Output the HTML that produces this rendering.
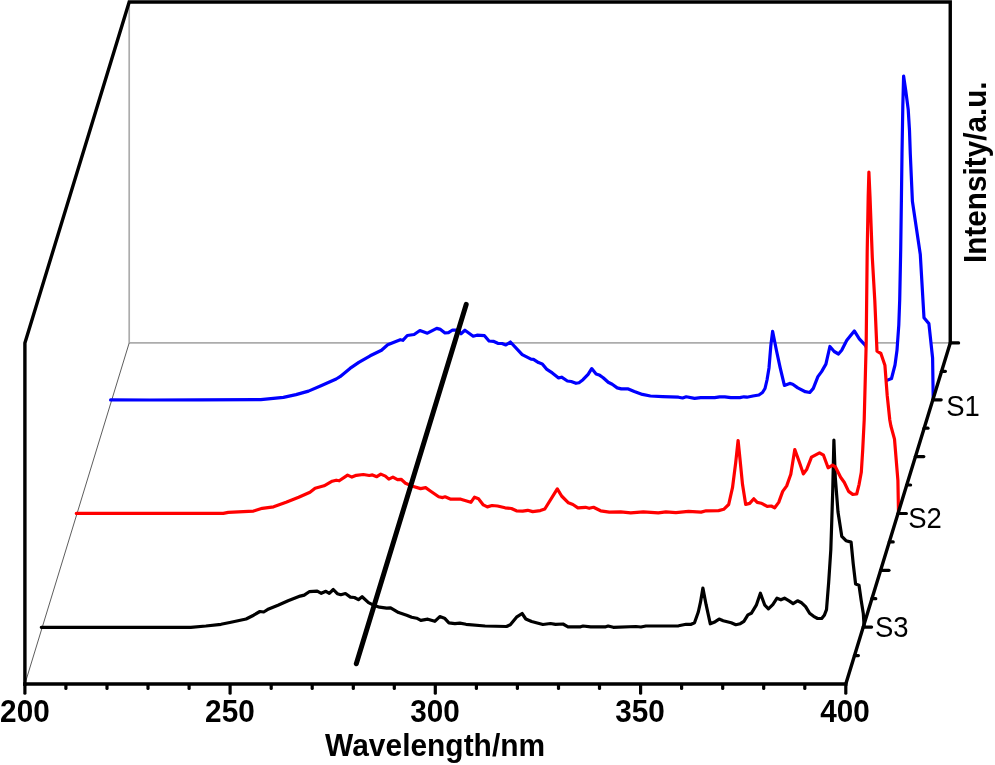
<!DOCTYPE html>
<html><head><meta charset="utf-8"><title>Spectra</title>
<style>html,body{margin:0;padding:0;background:#fff}body{width:995px;height:765px;overflow:hidden}</style></head>
<body>
<svg width="995" height="765" viewBox="0 0 995 765" style="display:block">
<rect width="995" height="765" fill="#fff"/>
<g stroke="#acacac" stroke-width="1.7" fill="none"><line x1="129.2" y1="2" x2="129.2" y2="342.9"/><line x1="129.2" y1="342.9" x2="950.25" y2="342.9"/></g>
<line x1="129.2" y1="342.9" x2="24.9" y2="684" stroke="#333" stroke-width="0.8"/>
<polygon points="110.6,399.9 150.0,400.0 200.0,399.8 260.8,399.6 283.4,397.4 296.0,394.6 308.5,391.1 321.0,385.8 336.2,379.0 340.0,376.7 350.0,368.4 358.8,362.4 370.2,355.8 381.5,350.3 387.7,344.8 400.3,339.7 402.8,340.3 407.3,335.5 414.1,334.5 419.9,330.5 427.4,333.2 436.7,328.4 440.5,329.4 445.0,333.0 448.5,332.7 452.6,330.0 458.0,330.2 461.0,333.7 464.9,330.2 473.2,336.2 476.9,335.2 484.5,335.7 489.0,341.0 493.3,341.3 497.8,343.3 502.0,343.5 505.8,345.0 510.4,342.0 522.2,354.6 531.0,359.1 533.5,359.3 538.5,362.6 542.3,363.9 546.5,369.1 552.3,372.9 558.6,377.9 561.6,377.2 567.4,381.0 571.2,381.5 576.0,383.3 579.0,382.7 583.0,379.7 588.1,374.3 591.7,368.6 596.1,373.9 599.1,374.9 603.2,377.7 608.2,382.3 612.2,384.3 617.2,387.9 621.3,388.9 628.3,388.9 634.3,391.4 642.4,394.4 650.4,396.0 662.5,396.6 678.5,397.2 682.6,398.0 686.2,396.8 694.6,398.4 700.7,397.6 714.7,397.6 719.7,396.8 724.8,396.8 730.8,397.6 739.8,397.6 743.9,396.8 746.9,397.2 752.9,396.0 758.9,395.0 762.5,392.5 765.0,388.5 767.0,380.0 769.0,368.0 770.8,346.0 772.6,331.4 776.4,350.3 780.2,367.8 784.4,385.4 789.7,383.4 792.7,384.2 797.8,387.9 805.3,391.7 809.8,392.5 813.3,388.4 817.9,376.6 821.6,371.6 825.9,364.1 829.9,346.5 834.2,351.5 838.5,354.0 841.7,350.3 846.8,340.2 854.3,330.9 859.3,338.9 865.6,345.7 875.0,365.0 882.0,378.0 887.0,380.4 891.5,378.5 895.0,365.0 897.0,350.3 898.8,325.0 899.7,300.0 900.7,250.0 901.4,200.0 902.0,154.0 902.8,107.0 903.6,76.0 905.8,91.0 908.2,109.4 909.5,130.6 910.3,154.0 912.4,201.2 920.3,254.6 924.0,317.8 928.9,323.6 932.6,358.0 933.2,398.3 933.2,400.0 110.6,400.0" fill="#fff" stroke="none"/>
<polyline points="110.6,399.9 150.0,400.0 200.0,399.8 260.8,399.6 283.4,397.4 296.0,394.6 308.5,391.1 321.0,385.8 336.2,379.0 340.0,376.7 350.0,368.4 358.8,362.4 370.2,355.8 381.5,350.3 387.7,344.8 400.3,339.7 402.8,340.3 407.3,335.5 414.1,334.5 419.9,330.5 427.4,333.2 436.7,328.4 440.5,329.4 445.0,333.0 448.5,332.7 452.6,330.0 458.0,330.2 461.0,333.7 464.9,330.2 473.2,336.2 476.9,335.2 484.5,335.7 489.0,341.0 493.3,341.3 497.8,343.3 502.0,343.5 505.8,345.0 510.4,342.0 522.2,354.6 531.0,359.1 533.5,359.3 538.5,362.6 542.3,363.9 546.5,369.1 552.3,372.9 558.6,377.9 561.6,377.2 567.4,381.0 571.2,381.5 576.0,383.3 579.0,382.7 583.0,379.7 588.1,374.3 591.7,368.6 596.1,373.9 599.1,374.9 603.2,377.7 608.2,382.3 612.2,384.3 617.2,387.9 621.3,388.9 628.3,388.9 634.3,391.4 642.4,394.4 650.4,396.0 662.5,396.6 678.5,397.2 682.6,398.0 686.2,396.8 694.6,398.4 700.7,397.6 714.7,397.6 719.7,396.8 724.8,396.8 730.8,397.6 739.8,397.6 743.9,396.8 746.9,397.2 752.9,396.0 758.9,395.0 762.5,392.5 765.0,388.5 767.0,380.0 769.0,368.0 770.8,346.0 772.6,331.4 776.4,350.3 780.2,367.8 784.4,385.4 789.7,383.4 792.7,384.2 797.8,387.9 805.3,391.7 809.8,392.5 813.3,388.4 817.9,376.6 821.6,371.6 825.9,364.1 829.9,346.5 834.2,351.5 838.5,354.0 841.7,350.3 846.8,340.2 854.3,330.9 859.3,338.9 865.6,345.7 875.0,365.0 882.0,378.0 887.0,380.4 891.5,378.5 895.0,365.0 897.0,350.3 898.8,325.0 899.7,300.0 900.7,250.0 901.4,200.0 902.0,154.0 902.8,107.0 903.6,76.0 905.8,91.0 908.2,109.4 909.5,130.6 910.3,154.0 912.4,201.2 920.3,254.6 924.0,317.8 928.9,323.6 932.6,358.0 933.2,398.3" fill="none" stroke="#0000ff" stroke-width="3.2" stroke-linejoin="round" stroke-linecap="round"/>
<polygon points="76.3,513.4 223.3,513.4 228.3,512.4 253.5,511.1 262.3,508.3 273.6,506.8 286.1,502.3 298.7,497.3 310.0,492.2 315.1,488.2 324.1,485.8 332.2,481.2 336.2,480.2 339.2,480.8 347.6,475.1 351.9,477.1 356.3,475.3 363.3,474.5 369.3,475.5 372.4,474.9 376.8,476.7 380.8,474.1 385.4,476.1 388.8,479.1 392.9,477.1 397.5,479.7 401.1,479.3 405.5,483.2 412.6,486.2 420.6,488.6 425.6,487.6 430.7,491.2 438.7,496.8 442.7,497.6 445.1,496.8 450.8,499.2 460.8,499.2 470.9,502.3 474.5,497.2 478.5,498.8 483.3,504.9 487.3,506.9 492.0,505.5 497.5,506.0 505.1,507.8 511.4,508.5 516.4,510.8 522.7,511.1 527.7,510.3 532.7,511.6 540.3,510.6 544.8,509.0 557.3,488.9 561.6,496.0 568.4,502.8 572.9,504.5 577.9,507.8 585.5,507.3 589.2,508.3 593.5,507.3 600.6,510.8 609.3,512.1 620.7,511.8 630.7,512.8 643.3,511.8 658.3,512.8 665.9,511.8 675.9,512.6 688.5,511.3 701.1,512.1 706.1,510.8 718.6,510.6 723.7,509.3 728.7,504.5 732.5,487.7 735.7,462.6 738.1,440.5 740.1,460.2 742.5,484.3 745.7,504.4 749.7,503.4 753.8,498.8 757.2,502.4 761.2,503.2 767.2,506.4 771.3,506.0 774.7,507.8 778.7,502.4 782.7,491.4 786.7,485.9 790.8,474.3 794.8,449.5 799.4,462.2 803.4,473.9 806.8,469.2 811.5,457.2 819.5,452.8 823.5,455.2 828.1,467.8 832.6,465.2 835.6,467.2 840.6,477.3 844.2,482.3 848.6,491.4 852.7,494.4 856.7,494.0 859.1,484.3 861.3,472.3 862.7,450.2 864.2,420.0 866.2,343.0 867.2,251.6 868.2,196.6 868.9,172.0 870.0,196.6 872.3,257.5 874.8,300.6 877.0,351.2 880.9,353.5 884.9,365.2 887.2,395.4 889.8,420.0 890.9,426.0 894.5,439.1 897.9,480.3 898.5,512.5 898.5,513.4 76.3,513.4" fill="#fff" stroke="none"/>
<polygon points="41.3,627.3 190.8,627.3 205.9,626.0 221.0,624.3 231.0,622.3 246.1,619.0 253.6,615.2 259.9,611.5 263.7,612.0 268.7,608.9 278.0,605.2 288.1,600.8 300.2,596.1 304.2,595.1 309.2,591.7 317.2,591.1 321.3,593.3 325.9,591.3 329.3,593.3 333.3,589.5 337.3,593.7 340.8,594.7 345.4,593.5 350.4,597.1 354.4,597.5 358.4,599.7 362.1,596.7 368.5,602.6 374.5,605.6 379.5,607.2 386.6,608.2 390.6,607.8 398.6,612.6 406.7,615.2 411.7,617.2 416.7,618.2 420.8,620.3 427.8,619.2 434.8,621.3 439.8,616.6 444.5,618.2 448.9,622.9 454.9,623.7 459.9,623.1 466.0,624.3 485.1,626.0 506.5,626.5 510.3,624.8 516.5,617.2 522.1,613.5 525.8,619.0 531.6,621.5 542.9,624.5 550.5,623.5 555.5,624.3 563.0,624.0 568.0,626.8 580.6,626.8 583.1,626.0 590.7,626.8 605.7,626.8 608.2,626.0 613.3,627.3 635.9,626.5 640.9,627.0 645.9,626.0 668.5,626.0 678.6,625.8 686.1,624.3 691.2,624.3 694.5,622.8 698.3,612.0 700.5,602.2 702.9,588.1 706.1,604.7 710.3,623.8 714.1,622.3 719.1,619.1 723.2,620.7 731.2,622.7 735.8,624.7 740.3,623.7 743.9,621.3 747.9,614.9 751.3,613.3 756.3,605.2 760.4,593.2 764.8,605.2 768.4,608.8 772.8,604.6 777.0,598.2 780.9,599.8 784.5,598.2 789.5,601.2 793.1,603.6 797.5,600.8 801.6,602.8 805.6,606.6 809.6,613.3 813.6,616.3 817.6,618.5 821.7,618.5 824.3,615.3 826.5,609.7 828.7,582.0 830.8,550.0 831.8,520.0 832.7,491.8 833.9,440.1 835.3,477.5 838.0,512.0 841.8,536.4 846.0,540.7 851.1,542.1 853.2,563.7 855.6,584.0 859.0,585.2 861.2,600.5 863.3,613.5 864.1,626.0 864.1,627.3 41.3,627.3" fill="#fff" stroke="none"/>
<polyline points="41.3,627.3 190.8,627.3 205.9,626.0 221.0,624.3 231.0,622.3 246.1,619.0 253.6,615.2 259.9,611.5 263.7,612.0 268.7,608.9 278.0,605.2 288.1,600.8 300.2,596.1 304.2,595.1 309.2,591.7 317.2,591.1 321.3,593.3 325.9,591.3 329.3,593.3 333.3,589.5 337.3,593.7 340.8,594.7 345.4,593.5 350.4,597.1 354.4,597.5 358.4,599.7 362.1,596.7 368.5,602.6 374.5,605.6 379.5,607.2 386.6,608.2 390.6,607.8 398.6,612.6 406.7,615.2 411.7,617.2 416.7,618.2 420.8,620.3 427.8,619.2 434.8,621.3 439.8,616.6 444.5,618.2 448.9,622.9 454.9,623.7 459.9,623.1 466.0,624.3 485.1,626.0 506.5,626.5 510.3,624.8 516.5,617.2 522.1,613.5 525.8,619.0 531.6,621.5 542.9,624.5 550.5,623.5 555.5,624.3 563.0,624.0 568.0,626.8 580.6,626.8 583.1,626.0 590.7,626.8 605.7,626.8 608.2,626.0 613.3,627.3 635.9,626.5 640.9,627.0 645.9,626.0 668.5,626.0 678.6,625.8 686.1,624.3 691.2,624.3 694.5,622.8 698.3,612.0 700.5,602.2 702.9,588.1 706.1,604.7 710.3,623.8 714.1,622.3 719.1,619.1 723.2,620.7 731.2,622.7 735.8,624.7 740.3,623.7 743.9,621.3 747.9,614.9 751.3,613.3 756.3,605.2 760.4,593.2 764.8,605.2 768.4,608.8 772.8,604.6 777.0,598.2 780.9,599.8 784.5,598.2 789.5,601.2 793.1,603.6 797.5,600.8 801.6,602.8 805.6,606.6 809.6,613.3 813.6,616.3 817.6,618.5 821.7,618.5 824.3,615.3 826.5,609.7 828.7,582.0 830.8,550.0 831.8,520.0 832.7,491.8 833.9,440.1 835.3,477.5 838.0,512.0 841.8,536.4 846.0,540.7 851.1,542.1 853.2,563.7 855.6,584.0 859.0,585.2 861.2,600.5 863.3,613.5 864.1,626.0" fill="none" stroke="#000000" stroke-width="3.2" stroke-linejoin="round" stroke-linecap="round"/>
<polyline points="76.3,513.4 223.3,513.4 228.3,512.4 253.5,511.1 262.3,508.3 273.6,506.8 286.1,502.3 298.7,497.3 310.0,492.2 315.1,488.2 324.1,485.8 332.2,481.2 336.2,480.2 339.2,480.8 347.6,475.1 351.9,477.1 356.3,475.3 363.3,474.5 369.3,475.5 372.4,474.9 376.8,476.7 380.8,474.1 385.4,476.1 388.8,479.1 392.9,477.1 397.5,479.7 401.1,479.3 405.5,483.2 412.6,486.2 420.6,488.6 425.6,487.6 430.7,491.2 438.7,496.8 442.7,497.6 445.1,496.8 450.8,499.2 460.8,499.2 470.9,502.3 474.5,497.2 478.5,498.8 483.3,504.9 487.3,506.9 492.0,505.5 497.5,506.0 505.1,507.8 511.4,508.5 516.4,510.8 522.7,511.1 527.7,510.3 532.7,511.6 540.3,510.6 544.8,509.0 557.3,488.9 561.6,496.0 568.4,502.8 572.9,504.5 577.9,507.8 585.5,507.3 589.2,508.3 593.5,507.3 600.6,510.8 609.3,512.1 620.7,511.8 630.7,512.8 643.3,511.8 658.3,512.8 665.9,511.8 675.9,512.6 688.5,511.3 701.1,512.1 706.1,510.8 718.6,510.6 723.7,509.3 728.7,504.5 732.5,487.7 735.7,462.6 738.1,440.5 740.1,460.2 742.5,484.3 745.7,504.4 749.7,503.4 753.8,498.8 757.2,502.4 761.2,503.2 767.2,506.4 771.3,506.0 774.7,507.8 778.7,502.4 782.7,491.4 786.7,485.9 790.8,474.3 794.8,449.5 799.4,462.2 803.4,473.9 806.8,469.2 811.5,457.2 819.5,452.8 823.5,455.2 828.1,467.8 832.6,465.2 835.6,467.2 840.6,477.3 844.2,482.3 848.6,491.4 852.7,494.4 856.7,494.0 859.1,484.3 861.3,472.3 862.7,450.2 864.2,420.0 866.2,343.0 867.2,251.6 868.2,196.6 868.9,172.0 870.0,196.6 872.3,257.5 874.8,300.6 877.0,351.2 880.9,353.5 884.9,365.2 887.2,395.4 889.8,420.0 890.9,426.0 894.5,439.1 897.9,480.3 898.5,512.5" fill="none" stroke="#ff0000" stroke-width="3.2" stroke-linejoin="round" stroke-linecap="round"/>
<line x1="466.2" y1="304.4" x2="356.3" y2="663.8" stroke="#000" stroke-width="5" stroke-linecap="round"/>
<g stroke="#000" stroke-width="3.4" fill="none" stroke-linejoin="miter" stroke-linecap="butt">
<polyline points="24.9,685.7 24.9,342.9 129.2,2 950.25,2 950.25,342.9 845.8,684"/>
<line x1="23.2" y1="684" x2="847.5" y2="684"/>
</g>
<g stroke="#000" stroke-width="3.2" stroke-linecap="round"><line x1="24.9" y1="684.8" x2="24.9" y2="693.2"/><line x1="65.9" y1="684.8" x2="65.9" y2="688.4"/><line x1="107.0" y1="684.8" x2="107.0" y2="688.4"/><line x1="148.0" y1="684.8" x2="148.0" y2="688.4"/><line x1="189.1" y1="684.8" x2="189.1" y2="688.4"/><line x1="230.1" y1="684.8" x2="230.1" y2="693.2"/><line x1="271.2" y1="684.8" x2="271.2" y2="688.4"/><line x1="312.2" y1="684.8" x2="312.2" y2="688.4"/><line x1="353.3" y1="684.8" x2="353.3" y2="688.4"/><line x1="394.3" y1="684.8" x2="394.3" y2="688.4"/><line x1="435.3" y1="684.8" x2="435.3" y2="693.2"/><line x1="476.4" y1="684.8" x2="476.4" y2="688.4"/><line x1="517.4" y1="684.8" x2="517.4" y2="688.4"/><line x1="558.5" y1="684.8" x2="558.5" y2="688.4"/><line x1="599.5" y1="684.8" x2="599.5" y2="688.4"/><line x1="640.6" y1="684.8" x2="640.6" y2="693.2"/><line x1="681.6" y1="684.8" x2="681.6" y2="688.4"/><line x1="722.7" y1="684.8" x2="722.7" y2="688.4"/><line x1="763.7" y1="684.8" x2="763.7" y2="688.4"/><line x1="804.8" y1="684.8" x2="804.8" y2="688.4"/><line x1="845.8" y1="684.8" x2="845.8" y2="693.2"/></g>
<g stroke="#000" stroke-width="3.2" stroke-linecap="round"><line x1="854.5" y1="655.6" x2="858.4" y2="655.6"/><line x1="863.2" y1="627.1" x2="871.6" y2="627.1"/><line x1="871.9" y1="598.7" x2="875.8" y2="598.7"/><line x1="880.6" y1="570.3" x2="889.0" y2="570.3"/><line x1="889.3" y1="541.9" x2="893.2" y2="541.9"/><line x1="898.0" y1="513.5" x2="906.4" y2="513.5"/><line x1="906.7" y1="485.0" x2="910.6" y2="485.0"/><line x1="915.4" y1="456.6" x2="923.8" y2="456.6"/><line x1="924.1" y1="428.2" x2="928.0" y2="428.2"/><line x1="932.8" y1="399.8" x2="941.2" y2="399.8"/><line x1="941.5" y1="371.3" x2="945.4" y2="371.3"/><line x1="950.2" y1="342.9" x2="958.6" y2="342.9"/></g>
<text x="24.9" y="722.3" font-family="Liberation Sans, Arial, sans-serif" font-size="30.6" font-weight="bold" text-anchor="middle" textLength="49.6" lengthAdjust="spacingAndGlyphs">200</text>
<text x="229.9" y="722.3" font-family="Liberation Sans, Arial, sans-serif" font-size="30.6" font-weight="bold" text-anchor="middle" textLength="49.6" lengthAdjust="spacingAndGlyphs">250</text>
<text x="435.0" y="722.3" font-family="Liberation Sans, Arial, sans-serif" font-size="30.6" font-weight="bold" text-anchor="middle" textLength="49.6" lengthAdjust="spacingAndGlyphs">300</text>
<text x="640.0" y="722.3" font-family="Liberation Sans, Arial, sans-serif" font-size="30.6" font-weight="bold" text-anchor="middle" textLength="49.6" lengthAdjust="spacingAndGlyphs">350</text>
<text x="845.1" y="722.3" font-family="Liberation Sans, Arial, sans-serif" font-size="30.6" font-weight="bold" text-anchor="middle" textLength="49.6" lengthAdjust="spacingAndGlyphs">400</text>
<text x="435.1" y="755.7" font-family="Liberation Sans, Arial, sans-serif" font-size="30.6" font-weight="bold" text-anchor="middle" textLength="220" lengthAdjust="spacingAndGlyphs">Wavelength/nm</text>
<text transform="translate(986.0,172.2) rotate(-90)" font-family="Liberation Sans, Arial, sans-serif" font-size="30.8" font-weight="bold" text-anchor="middle" textLength="181.5" lengthAdjust="spacingAndGlyphs">Intensity/a.u.</text>
<text x="874.9" y="636.8" font-family="Liberation Sans, Arial, sans-serif" font-size="30.3" textLength="33.6" lengthAdjust="spacingAndGlyphs">S3</text>
<text x="908.2" y="528.0" font-family="Liberation Sans, Arial, sans-serif" font-size="30.3" textLength="33.6" lengthAdjust="spacingAndGlyphs">S2</text>
<text x="946.3" y="415.7" font-family="Liberation Sans, Arial, sans-serif" font-size="30.3" textLength="33.6" lengthAdjust="spacingAndGlyphs">S1</text>
</svg>
</body></html>
